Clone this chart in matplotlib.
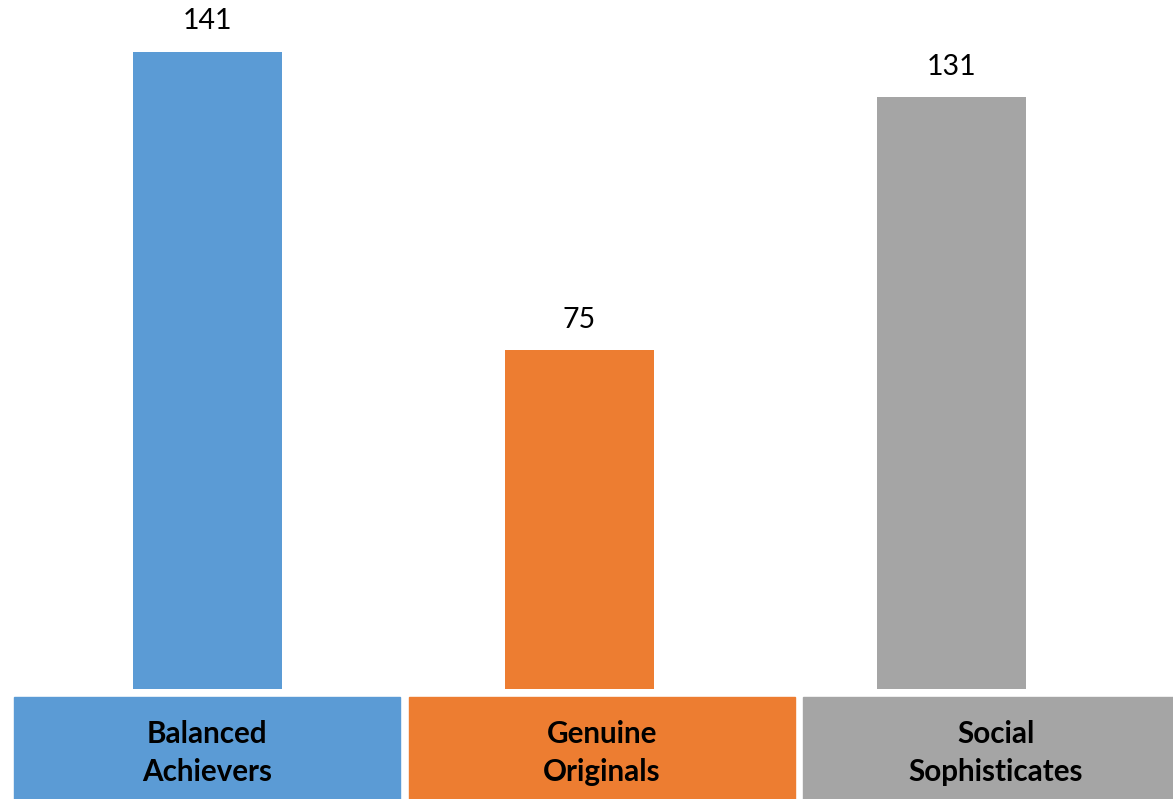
import matplotlib.pyplot as plt
from matplotlib.patches import Rectangle

categories = ["Balanced\nAchievers", "Genuine\nOriginals", "Social\nSophisticates"]
counts = [141, 75, 131]
colors = ["#5b9bd5", "#ed7d31", "#a5a5a5"]

W, H = 1173, 799
plt.rcParams["font.family"] = ["Lato", "DejaVu Sans"]

fig = plt.figure(figsize=(W / 100, H / 100), dpi=100)

# bar area: baseline at 689 px from top, 372 px between bar centres
base_px = 689
unit_px = 372
x0_px = 207.5
ax = fig.add_axes([0, (H - base_px) / H, 1, base_px / H])
ax.set_xlim(-x0_px / unit_px, (W - x0_px) / unit_px)
ax.set_ylim(0, base_px / 4.52)
ax.set_axis_off()

xs = range(len(counts))
bars = ax.bar(xs, counts, width=149 / unit_px, color=colors)
for rect, v in zip(bars, counts):
    ax.annotate(str(v), (rect.get_x() + rect.get_width() / 2, v),
                xytext=(0, 12.5), textcoords="offset points",
                ha="center", va="bottom", fontsize=20.5, color="#000000")

# coloured label boxes along the bottom
box_left = [14, 409, 803]
box_w = 386
box_top = 697
for left, label, c in zip(box_left, categories, colors):
    fig.patches.append(Rectangle((left / W, 0), box_w / W, (H - box_top) / H,
                                 transform=fig.transFigure, color=c, zorder=1))
    fig.text((left + box_w / 2) / W, (H - 753) / H, label,
             ha="center", va="center", fontsize=21.3, fontweight="bold",
             linespacing=1.45, color="#000000")

fig.savefig("out.png", dpi=100)
